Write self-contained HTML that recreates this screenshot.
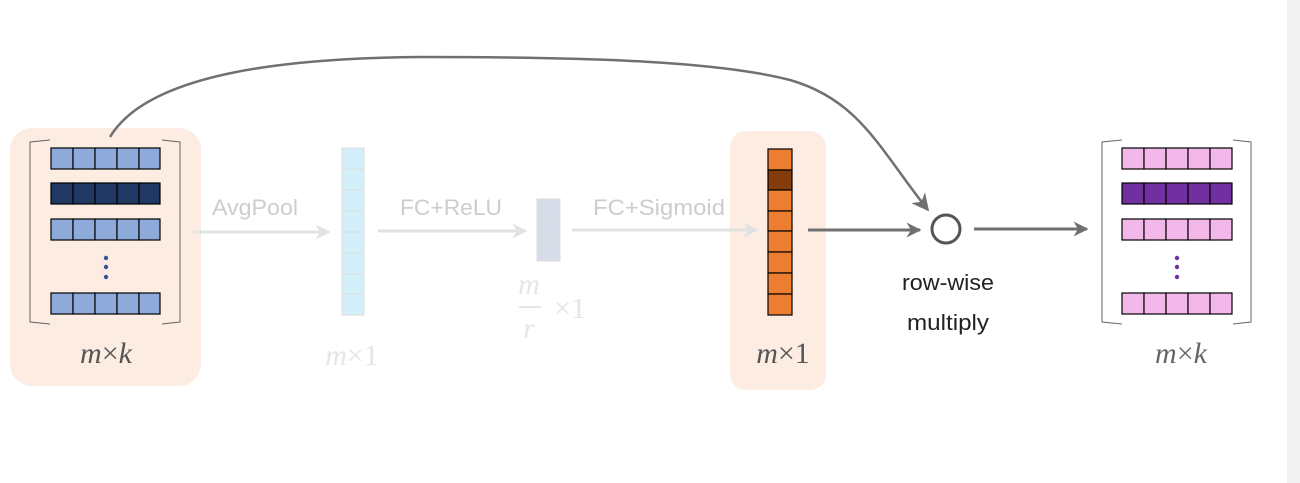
<!DOCTYPE html>
<html><head><meta charset="utf-8"><style>
body{margin:0;width:1300px;height:483px;background:#fff;overflow:hidden}
svg{display:block}
</style></head><body>
<svg width="1300" height="483" viewBox="0 0 1300 483" xmlns="http://www.w3.org/2000/svg">
<defs>
<marker id="ag" viewBox="0 0 10 10" refX="9" refY="5" markerWidth="5" markerHeight="5" orient="auto"><path d="M0,0 L10,5 L0,10 L3,5 z" fill="#e2e2e2"/></marker>
<marker id="ad" viewBox="0 0 10 10" refX="9" refY="5" markerWidth="5" markerHeight="5" orient="auto"><path d="M0,0 L10,5 L0,10 L3,5 z" fill="#707070"/></marker>
<marker id="ad2" viewBox="0 0 10 10" refX="9" refY="5" markerWidth="7" markerHeight="7" orient="auto"><path d="M0,0 L10,5 L0,10 L3,5 z" fill="#707070"/></marker>
</defs>
<rect x="1287" y="0" width="13" height="483" fill="#f3f3f3"/>
<rect x="10" y="128" width="191" height="258" rx="22" fill="#fcece2"/>
<rect x="730" y="131" width="96" height="259" rx="16" fill="#fcece2"/>

<path d="M50,140 L30,142 L30,322 L50,324" fill="none" stroke="#666" stroke-width="1"/>
<path d="M162,140 L180,142 L180,322 L162,324" fill="none" stroke="#666" stroke-width="1"/>
<g stroke="#000" stroke-width="1.2">
<g fill="#8eaadb"><rect x="51" y="148" width="22" height="21"/><rect x="73" y="148" width="22" height="21"/><rect x="95" y="148" width="22" height="21"/><rect x="117" y="148" width="22" height="21"/><rect x="139" y="148" width="21" height="21"/></g>
<g fill="#1f3864"><rect x="51" y="183" width="22" height="21"/><rect x="73" y="183" width="22" height="21"/><rect x="95" y="183" width="22" height="21"/><rect x="117" y="183" width="22" height="21"/><rect x="139" y="183" width="21" height="21"/></g>
<g fill="#8eaadb"><rect x="51" y="219" width="22" height="21"/><rect x="73" y="219" width="22" height="21"/><rect x="95" y="219" width="22" height="21"/><rect x="117" y="219" width="22" height="21"/><rect x="139" y="219" width="21" height="21"/></g>
<g fill="#8eaadb"><rect x="51" y="293" width="22" height="21"/><rect x="73" y="293" width="22" height="21"/><rect x="95" y="293" width="22" height="21"/><rect x="117" y="293" width="22" height="21"/><rect x="139" y="293" width="21" height="21"/></g>
</g>
<g fill="#2f5597"><circle cx="106" cy="258" r="2.2"/><circle cx="106" cy="267" r="2.2"/><circle cx="106" cy="277" r="2.2"/></g>

<path d="M1122,140 L1102,142 L1102,322 L1122,324" fill="none" stroke="#666" stroke-width="1"/>
<path d="M1233,140 L1251,142 L1251,322 L1233,324" fill="none" stroke="#666" stroke-width="1"/>
<g stroke="#000" stroke-width="1.2">
<g fill="#f3b8ea"><rect x="1122" y="148" width="22" height="21"/><rect x="1144" y="148" width="22" height="21"/><rect x="1166" y="148" width="22" height="21"/><rect x="1188" y="148" width="22" height="21"/><rect x="1210" y="148" width="22" height="21"/></g>
<g fill="#7030a0"><rect x="1122" y="183" width="22" height="21"/><rect x="1144" y="183" width="22" height="21"/><rect x="1166" y="183" width="22" height="21"/><rect x="1188" y="183" width="22" height="21"/><rect x="1210" y="183" width="22" height="21"/></g>
<g fill="#f3b8ea"><rect x="1122" y="219" width="22" height="21"/><rect x="1144" y="219" width="22" height="21"/><rect x="1166" y="219" width="22" height="21"/><rect x="1188" y="219" width="22" height="21"/><rect x="1210" y="219" width="22" height="21"/></g>
<g fill="#f3b8ea"><rect x="1122" y="293" width="22" height="21"/><rect x="1144" y="293" width="22" height="21"/><rect x="1166" y="293" width="22" height="21"/><rect x="1188" y="293" width="22" height="21"/><rect x="1210" y="293" width="22" height="21"/></g>
</g>
<g fill="#7030a0"><circle cx="1177" cy="258" r="2.2"/><circle cx="1177" cy="267" r="2.2"/><circle cx="1177" cy="277" r="2.2"/></g>

<rect x="342" y="148" width="22" height="167" fill="#d3f0fa" stroke="#ddd"/>
<g stroke="#ddd"><line x1="342" y1="169" x2="364" y2="169"/><line x1="342" y1="190" x2="364" y2="190"/><line x1="342" y1="211" x2="364" y2="211"/><line x1="342" y1="232" x2="364" y2="232"/><line x1="342" y1="253" x2="364" y2="253"/><line x1="342" y1="274" x2="364" y2="274"/><line x1="342" y1="294" x2="364" y2="294"/></g>
<rect x="537" y="199" width="23" height="62" fill="#d6dce8" stroke="#ddd"/>
<g stroke="#ddd"><line x1="537" y1="220" x2="560" y2="220"/><line x1="537" y1="240" x2="560" y2="240"/></g>
<g stroke="#000" stroke-width="1.2" fill="#ed7d31">
<rect x="768" y="149" width="24" height="21"/><rect x="768" y="170" width="24" height="20" fill="#843c0c"/><rect x="768" y="190" width="24" height="21"/><rect x="768" y="211" width="24" height="20"/><rect x="768" y="231" width="24" height="21"/><rect x="768" y="252" width="24" height="21"/><rect x="768" y="273" width="24" height="21"/><rect x="768" y="294" width="24" height="21"/>
</g>

<g stroke="#e2e2e2" stroke-width="3" fill="none">
<line x1="193" y1="232" x2="329" y2="232" marker-end="url(#ag)"/>
<line x1="378" y1="231" x2="526" y2="231" marker-end="url(#ag)"/>
<line x1="572" y1="230" x2="757" y2="230" marker-end="url(#ag)"/>
</g>
<g font-family="Liberation Sans, sans-serif" font-size="22" fill="#cdcdcd">
<text x="212" y="215" textLength="86" lengthAdjust="spacingAndGlyphs">AvgPool</text>
<text x="400" y="215" textLength="102" lengthAdjust="spacingAndGlyphs">FC+ReLU</text>
<text x="593" y="215" textLength="132" lengthAdjust="spacingAndGlyphs">FC+Sigmoid</text>
</g>

<g stroke="#707070" stroke-width="3" fill="none">
<line x1="808" y1="230" x2="920" y2="230" marker-end="url(#ad)"/>
<line x1="974" y1="229" x2="1087" y2="229" marker-end="url(#ad)"/>
<path d="M110,137 C150,70 300,58 420,57 C600,57 720,62 790,80 C860,100 880,150 928,210" stroke-width="2.5" marker-end="url(#ad2)"/>
</g>
<circle cx="946" cy="229" r="14" fill="#fff" stroke="#555" stroke-width="3"/>
<g font-family="Liberation Sans, sans-serif" font-size="22" fill="#222" text-anchor="middle">
<text x="948" y="290" textLength="92" lengthAdjust="spacingAndGlyphs">row-wise</text>
<text x="948" y="330" textLength="82" lengthAdjust="spacingAndGlyphs">multiply</text>
</g>

<g font-family="Liberation Serif, serif" font-size="30" text-anchor="middle">
<text x="106" y="363" fill="#555"><tspan font-style="italic">m</tspan>×<tspan font-style="italic">k</tspan></text>
<text x="352" y="365" fill="#e6e6e6"><tspan font-style="italic">m</tspan>×1</text>
<text x="783" y="363" fill="#555"><tspan font-style="italic">m</tspan>×1</text>
<text x="1181" y="363" fill="#666"><tspan font-style="italic">m</tspan>×<tspan font-style="italic">k</tspan></text>
<text x="529" y="294" fill="#e6e6e6" font-style="italic">m</text>
<text x="529" y="338" fill="#e6e6e6" font-style="italic">r</text>
<text x="570" y="318" fill="#e6e6e6">×1</text>
</g>
<line x1="519" y1="307" x2="541" y2="307" stroke="#e6e6e6" stroke-width="2"/>
</svg>
</body></html>
